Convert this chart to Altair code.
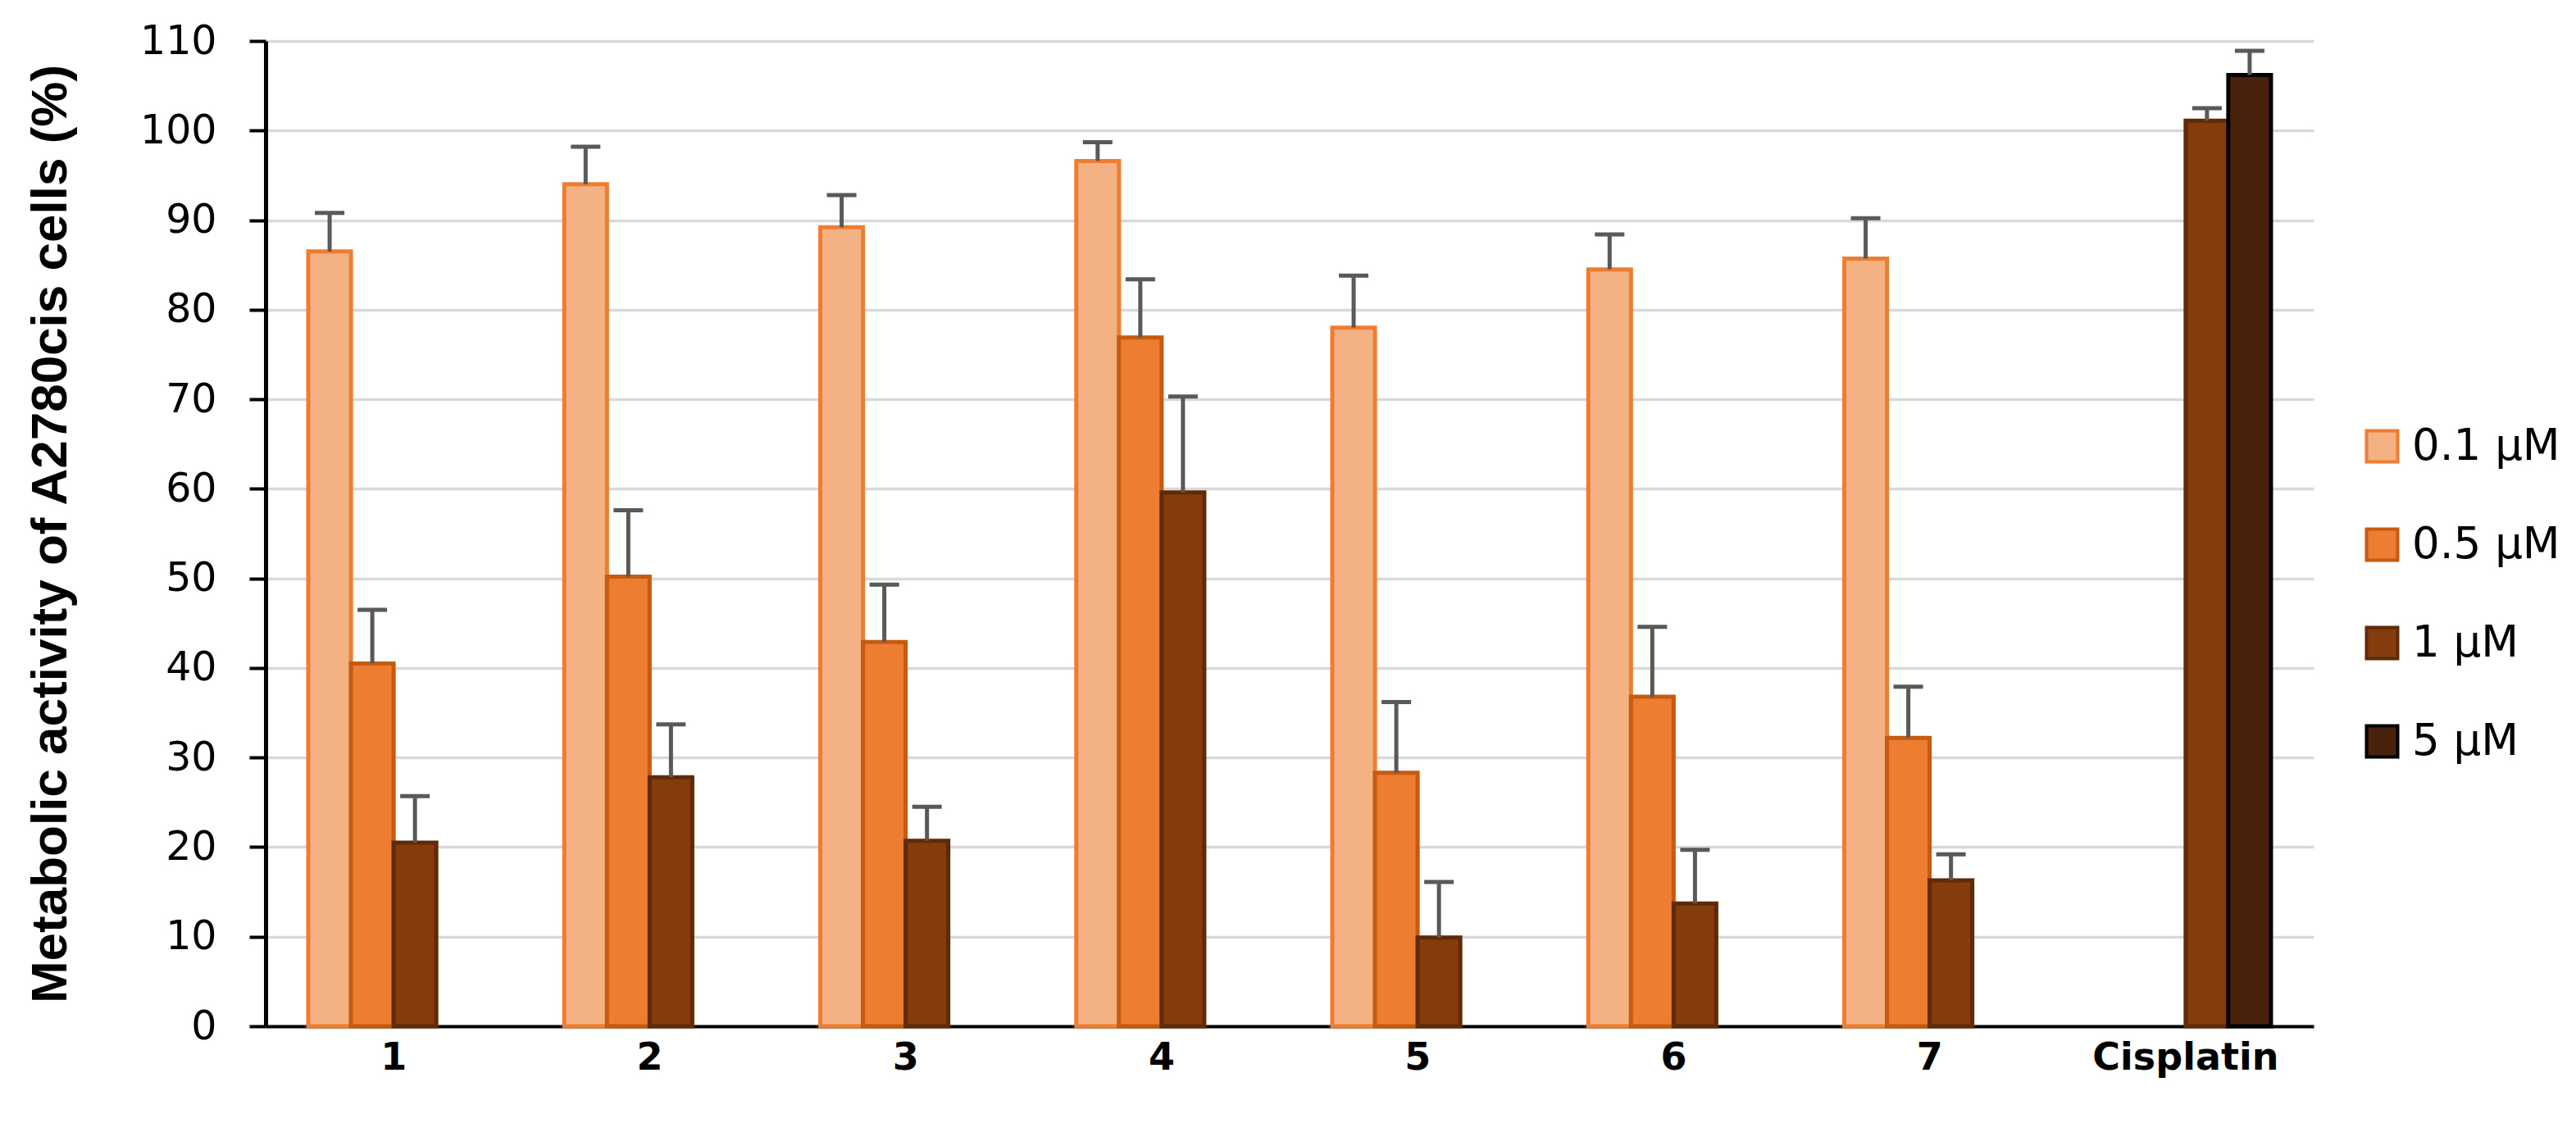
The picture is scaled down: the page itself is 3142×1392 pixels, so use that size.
import altair as alt
import pandas as pd

categories = ["1", "2", "3", "4", "5", "6", "7", "Cisplatin"]
series = ["0.1 µM", "0.5 µM", "1 µM", "5 µM"]

values_01 = [86.5, 94.0, 89.2, 96.6, 78.0, 84.5, 85.7, None]
errors_01 = [4.3, 4.2, 3.6, 2.1, 5.8, 3.9, 4.5, None]
values_05 = [40.5, 50.2, 42.9, 76.9, 28.3, 36.8, 32.2, None]
errors_05 = [6.0, 7.4, 6.4, 6.5, 7.9, 7.8, 5.7, None]
values_1 = [20.5, 27.8, 20.7, 59.6, 9.9, 13.7, 16.3, 101.1]
errors_1 = [5.2, 5.9, 3.8, 10.7, 6.2, 6.0, 2.9, 1.4]
values_5 = [None, None, None, None, None, None, None, 106.2]
errors_5 = [None, None, None, None, None, None, None, 2.7]

fills = ["#F4B183", "#ED7D31", "#843C0C", "#4A210A"]
strokes = ["#ED7D31", "#C55A11", "#5E2A08", "#000000"]

rows = []
for s, vals, errs in zip(series, [values_01, values_05, values_1, values_5],
                         [errors_01, errors_05, errors_1, errors_5]):
    for c, v, e in zip(categories, vals, errs):
        if v is not None:
            rows.append({"cat": c, "series": s, "value": v, "top": v + e})
df = pd.DataFrame(rows)

x_enc = alt.X("cat:N", sort=categories,
              scale=alt.Scale(domain=categories, paddingInner=1/3, paddingOuter=1/6),
              axis=alt.Axis(title=None, labelFont="DejaVu Sans", labelFontWeight="bold",
                            labelFontSize=46, labelColor="black", ticks=False,
                            domainColor="black", domainWidth=4, labelPadding=16,
                            labelAngle=0, labelLimit=0))
xoff_enc = alt.XOffset("series:N", sort=series,
                       scale=alt.Scale(domain=series, paddingInner=0, paddingOuter=0))

y_axis = alt.Axis(values=list(range(0, 111, 10)),
                  grid=True, gridColor="#D9D9D9", gridWidth=3.5,
                  tickColor="black", tickSize=20, tickWidth=4,
                  domainColor="black", domainWidth=5,
                  labelFont="DejaVu Sans", labelFontSize=49, labelColor="black",
                  labelPadding=40, labelLimit=0,
                  titleFont="Liberation Sans", titleFontWeight="bold", titleFontSize=62,
                  titleColor="black", titleX=-244, titleY=601, titleAngle=270,
                  titleBaseline="alphabetic", titleAlign="center")
y_scale = alt.Scale(domain=[0, 110], nice=False)
ytitle = "Metabolic activity of A2780cis cells (%)"

legend = alt.Legend(title=None, orient="none", legendX=2555, legendY=468,
                    symbolType="square", symbolSize=1444, symbolStrokeWidth=4,
                    labelFont="DejaVu Sans", labelFontSize=53, labelColor="black",
                    rowPadding=65, labelOffset=10, labelLimit=0)

base = alt.Chart(df)

bars = base.mark_bar(strokeWidth=5).encode(
    x=x_enc, xOffset=xoff_enc,
    y=alt.Y("value:Q", scale=y_scale, axis=y_axis, title=ytitle),
    fill=alt.Fill("series:N", scale=alt.Scale(domain=series, range=fills), legend=legend),
    stroke=alt.Stroke("series:N", scale=alt.Scale(domain=series, range=strokes), legend=legend),
)

err = base.mark_rule(color="#595959", strokeWidth=5).encode(
    x=x_enc, xOffset=xoff_enc,
    y=alt.Y("value:Q", scale=y_scale, axis=y_axis, title=ytitle),
    y2="top:Q",
)

caps = base.mark_tick(color="#595959", thickness=5, size=36, opacity=1).encode(
    x=x_enc, xOffset=xoff_enc,
    y=alt.Y("top:Q", scale=y_scale, axis=y_axis, title=ytitle),
)

chart = alt.layer(bars, err, caps).properties(
    width=2498, height=1202,
    autosize=alt.AutoSizeParams(type="none"),
    padding={"left": 316, "top": 42, "right": 312, "bottom": 132},
    background="white",
).configure_view(stroke=None)

chart.save("out.html", embed_options={"renderer": "svg", "actions": False})
